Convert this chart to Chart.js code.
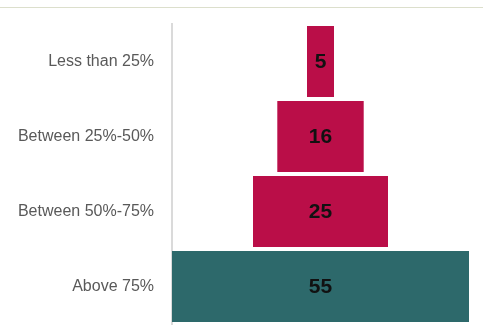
<!DOCTYPE html>
<html>
<head>
<meta charset="utf-8">
<script src="https://cdn.jsdelivr.net/npm/chart.js@4/dist/chart.umd.min.js"></script>
<style>
  html, body { margin: 0; padding: 0; background: #fff; }
  #wrap { position: relative; width: 483px; height: 336px; }
  #topline { position: absolute; left: 0; top: 7px; width: 483px; height: 0; border-top: 1px solid #dcdfcc; }
  canvas { display: block; }
</style>
</head>
<body>
<div id="wrap">
  <div id="topline"></div>
  <canvas id="chart" width="483" height="336"></canvas>
</div>
<script>
const categories = ['Less than 25%', 'Between 25%-50%', 'Between 50%-75%', 'Above 75%']
const values = [5, 16, 25, 55]
const barColors = ['#ba0e48', '#ba0e48', '#ba0e48', '#2d696b']

// centred bars make the funnel shape
const funnelData = values.map(v => [-v / 2, v / 2])
const maxValue = Math.max(...values)

const valueLabels = {
    id: 'valueLabels',
    afterDatasetsDraw(chart) {
        const ctx = chart.ctx
        const meta = chart.getDatasetMeta(0)
        ctx.save()
        ctx.font = 'bold 21px "Liberation Sans", Arial, sans-serif'
        ctx.fillStyle = '#111'
        ctx.textAlign = 'center'
        ctx.textBaseline = 'middle'
        meta.data.forEach((bar, i) => {
            const cx = chart.scales.x.getPixelForValue(0)
            ctx.fillText(String(values[i]), cx, bar.y + 1)
        })
        ctx.restore()
    }
}

new Chart(document.getElementById('chart').getContext('2d'), {
    type: 'bar',
    data: {
        labels: categories,
        datasets: [{
            data: funnelData,
            backgroundColor: barColors,
            borderColor: barColors,
            borderWidth: 0,
            borderSkipped: false,
            barPercentage: 0.947,
            categoryPercentage: 1
        }]
    },
    options: {
        indexAxis: 'y',
        responsive: false,
        animation: false,
        layout: { padding: { top: 24, bottom: 12, left: 0, right: 14 } },
        plugins: {
            legend: { display: false },
            tooltip: { enabled: false }
        },
        scales: {
            x: {
                display: false,
                min: -maxValue / 2,
                max: maxValue / 2
            },
            y: {
                afterFit(scale) {
                    scale.width = 172
                    scale.paddingTop = 0
                    scale.paddingBottom = 0
                },
                grid: { display: false, drawTicks: false },
                border: { display: true, color: '#dadada', width: 2 },
                ticks: {
                    padding: 18,
                    color: '#595959',
                    font: { family: '"Liberation Sans", Arial, sans-serif', size: 16 }
                }
            }
        }
    },
    plugins: [valueLabels]
})
</script>
</body>
</html>
